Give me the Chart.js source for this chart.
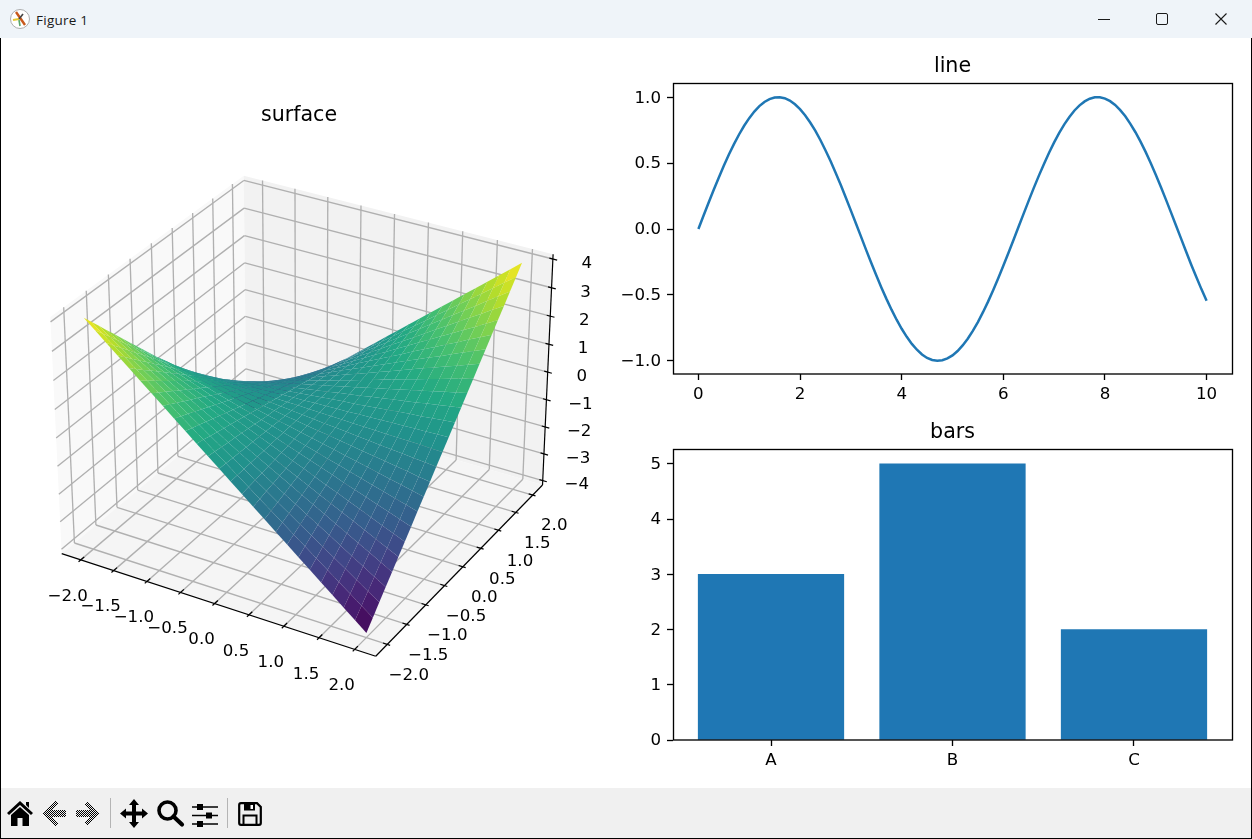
<!DOCTYPE html>
<html>
<head>
<meta charset="utf-8">
<title>Figure 1</title>
<script src="https://cdn.jsdelivr.net/npm/chart.js@4/dist/chart.umd.js"></script>
<style>
  html, body { margin: 0; padding: 0; background: #fff; overflow: hidden; }
  #win { position: relative; width: 1252px; height: 839px; background: #fff; }
  #titlebar { position: absolute; left: 0; top: 0; width: 1252px; height: 38px; background: #eff4f9; }
  #titletext { position: absolute; left: 36px; top: 11px; font: 13.5px/18px "Open Sans", sans-serif; letter-spacing: .25px; color: #1a1a1a; }
  #toolbar { position: absolute; left: 0; top: 788px; width: 1252px; height: 50px; background: #f0f0f0; }
  #bl, #br { position: absolute; top: 38px; width: 1px; height: 801px; background: #000; z-index: 5; }
  #bl { left: 0; } #br { left: 1251px; }
  #bb { position: absolute; left: 0; top: 838px; width: 1252px; height: 1px; background: #000; z-index: 5; }
  canvas { position: absolute; display: block; }
  svg { position: absolute; overflow: visible; }
  .sep { position: absolute; top: 10px; width: 1px; height: 30px; background: #b4b4b4; }
</style>
</head>
<body>
<div id="win">
  <div id="titlebar">
    <svg style="left:10px;top:9px" width="20" height="20" viewBox="0 0 20 20">
      <circle cx="10" cy="10" r="9.5" fill="#fff" stroke="#999" stroke-width="0.8"/>
      <path d="M6 3 L15 16" stroke="#c8581c" stroke-width="2.4"/>
      <path d="M3 11 L9 10" stroke="#e6c832" stroke-width="2"/>
      <path d="M9 10 L13 5" stroke="#444" stroke-width="1.6"/>
      <path d="M9 11 L10 17" stroke="#5aa66a" stroke-width="1.6"/>
    </svg>
    <div id="titletext">Figure 1</div>
    <svg style="left:1098px;top:19px" width="12" height="2"><path d="M0 .5 H12" stroke="#1a1a1a" stroke-width="1"/></svg>
    <svg style="left:1156px;top:13px" width="12" height="12"><rect x=".5" y=".5" width="11" height="11" rx="1.5" fill="none" stroke="#1a1a1a"/></svg>
    <svg style="left:1215px;top:13px" width="12" height="12"><path d="M.5 .5 L11.5 11.5 M11.5 .5 L.5 11.5" stroke="#1a1a1a" stroke-width="1.1"/></svg>
  </div>
  <canvas id="surface" width="619" height="750" style="left:1px;top:38px"></canvas>
  <canvas id="line" width="632" height="375" style="left:620px;top:38px"></canvas>
  <canvas id="bars" width="632" height="375" style="left:620px;top:413px"></canvas>
  <div id="toolbar">
    <svg style="left:7px;top:13px" width="26" height="25" viewBox="0 0 26 25">
      <path d="M13 0 L26 12 L24 14 L13 4 L2 14 L0 12 Z M19 1 h3 v6 l-3 -3 Z M4 14 L13 6 L22 14 V25 H15.5 V17 H10.5 V25 H4 Z" fill="#000"/>
    </svg>
    <svg style="left:43px;top:13px" width="23" height="25" viewBox="0 0 23 25" shape-rendering="crispEdges">
      <defs><pattern id="dith" width="2" height="2" patternUnits="userSpaceOnUse"><rect width="1" height="1" fill="#000"/><rect x="1" y="1" width="1" height="1" fill="#000"/></pattern></defs>
      <path d="M12 0 L15 3 L9 9 H23 V16 H9 L15 22 L12 25 L0 12.5 Z" fill="url(#dith)"/>
    </svg>
    <svg style="left:76px;top:13px" width="23" height="25" viewBox="0 0 23 25" shape-rendering="crispEdges">
      <path d="M11 0 L8 3 L14 9 H0 V16 H14 L8 22 L11 25 L23 12.5 Z" fill="url(#dith)"/>
    </svg>
    <div class="sep" style="left:110px"></div>
    <svg style="left:120px;top:11px" width="28" height="29" viewBox="0 0 28 29">
      <path d="M14 0 L19 6 H16 V12.5 H22 V9.5 L28 14.5 L22 19.5 V16.5 H16 V23 H19 L14 29 L9 23 H12 V16.5 H6 V19.5 L0 14.5 L6 9.5 V12.5 H12 V6 H9 Z" fill="#000"/>
    </svg>
    <svg style="left:157px;top:12px" width="27" height="26" viewBox="0 0 27 26">
      <circle cx="10.5" cy="10.5" r="8.5" fill="none" stroke="#000" stroke-width="3.6"/>
      <path d="M16.5 16.5 L25 24.5" stroke="#000" stroke-width="4.2" stroke-linecap="round"/>
    </svg>
    <svg style="left:192px;top:16px" width="26" height="23" viewBox="0 0 26 23">
      <path d="M0 3 H26 M0 11.5 H26 M0 20 H26" stroke="#000" stroke-width="1.4"/>
      <rect x="5" y="0" width="6" height="6" fill="#000"/><rect x="14" y="8.5" width="6" height="6" fill="#000"/><rect x="5" y="17" width="6" height="6" fill="#000"/>
    </svg>
    <div class="sep" style="left:227px"></div>
    <svg style="left:238px;top:14px" width="24" height="24" viewBox="0 0 24 24">
      <path d="M1.2 3 Q1.2 1.2 3 1.2 H19 L22.8 5 V21 Q22.8 22.8 21 22.8 H3 Q1.2 22.8 1.2 21 Z" fill="none" stroke="#000" stroke-width="2.2"/>
      <path d="M6 1.5 H17 V8.5 H6 Z" fill="#000"/><rect x="12.5" y="3" width="2.5" height="4" fill="#fff"/>
      <path d="M5.5 22 V13.5 H18.5 V22" fill="none" stroke="#000" stroke-width="2"/>
    </svg>
  </div>
  <div id="bl"></div><div id="br"></div><div id="bb"></div>
</div>

<script>
// surface grid (same positions on both axes)
const gridX = [-2,-1.84,-1.68,-1.52,-1.36,-1.2,-1.04,-0.88,-0.72,-0.56,-0.4,-0.24,-0.08,0.08,0.24,0.4,0.56,0.72,0.88,1.04,1.2,1.36,1.52,1.68,1.84,2];
const gridY = [-2,-1.84,-1.68,-1.52,-1.36,-1.2,-1.04,-0.88,-0.72,-0.56,-0.4,-0.24,-0.08,0.08,0.24,0.4,0.56,0.72,0.88,1.04,1.2,1.36,1.52,1.68,1.84,2];
// surface heights, one row per gridY value
const surfaceZ = [
[4,3.68,3.36,3.04,2.72,2.4,2.08,1.76,1.44,1.12,.8,.48,.16,-.16,-.48,-.8,-1.12,-1.44,-1.76,-2.08,-2.4,-2.72,-3.04,-3.36,-3.68,-4],
[3.68,3.39,3.09,2.8,2.5,2.21,1.91,1.62,1.32,1.03,.74,.44,.15,-.15,-.44,-.74,-1.03,-1.32,-1.62,-1.91,-2.21,-2.5,-2.8,-3.09,-3.39,-3.68],
[3.36,3.09,2.82,2.55,2.28,2.02,1.75,1.48,1.21,.94,.67,.4,.13,-.13,-.4,-.67,-.94,-1.21,-1.48,-1.75,-2.02,-2.28,-2.55,-2.82,-3.09,-3.36],
[3.04,2.8,2.55,2.31,2.07,1.82,1.58,1.34,1.09,.85,.61,.36,.12,-.12,-.36,-.61,-.85,-1.09,-1.34,-1.58,-1.82,-2.07,-2.31,-2.55,-2.8,-3.04],
[2.72,2.5,2.28,2.07,1.85,1.63,1.41,1.2,.98,.76,.54,.33,.11,-.11,-.33,-.54,-.76,-.98,-1.2,-1.41,-1.63,-1.85,-2.07,-2.28,-2.5,-2.72],
[2.4,2.21,2.02,1.82,1.63,1.44,1.25,1.06,.86,.67,.48,.29,.1,-.1,-.29,-.48,-.67,-.86,-1.06,-1.25,-1.44,-1.63,-1.82,-2.02,-2.21,-2.4],
[2.08,1.91,1.75,1.58,1.41,1.25,1.08,.92,.75,.58,.42,.25,.08,-.08,-.25,-.42,-.58,-.75,-.92,-1.08,-1.25,-1.41,-1.58,-1.75,-1.91,-2.08],
[1.76,1.62,1.48,1.34,1.2,1.06,.92,.77,.63,.49,.35,.21,.07,-.07,-.21,-.35,-.49,-.63,-.77,-.92,-1.06,-1.2,-1.34,-1.48,-1.62,-1.76],
[1.44,1.32,1.21,1.09,.98,.86,.75,.63,.52,.4,.29,.17,.06,-.06,-.17,-.29,-.4,-.52,-.63,-.75,-.86,-.98,-1.09,-1.21,-1.32,-1.44],
[1.12,1.03,.94,.85,.76,.67,.58,.49,.4,.31,.22,.13,.04,-.04,-.13,-.22,-.31,-.4,-.49,-.58,-.67,-.76,-.85,-.94,-1.03,-1.12],
[.8,.74,.67,.61,.54,.48,.42,.35,.29,.22,.16,.1,.03,-.03,-.1,-.16,-.22,-.29,-.35,-.42,-.48,-.54,-.61,-.67,-.74,-.8],
[.48,.44,.4,.36,.33,.29,.25,.21,.17,.13,.1,.06,.02,-.02,-.06,-.1,-.13,-.17,-.21,-.25,-.29,-.33,-.36,-.4,-.44,-.48],
[.16,.15,.13,.12,.11,.1,.08,.07,.06,.04,.03,.02,.01,-.01,-.02,-.03,-.04,-.06,-.07,-.08,-.1,-.11,-.12,-.13,-.15,-.16],
[-.16,-.15,-.13,-.12,-.11,-.1,-.08,-.07,-.06,-.04,-.03,-.02,-.01,.01,.02,.03,.04,.06,.07,.08,.1,.11,.12,.13,.15,.16],
[-.48,-.44,-.4,-.36,-.33,-.29,-.25,-.21,-.17,-.13,-.1,-.06,-.02,.02,.06,.1,.13,.17,.21,.25,.29,.33,.36,.4,.44,.48],
[-.8,-.74,-.67,-.61,-.54,-.48,-.42,-.35,-.29,-.22,-.16,-.1,-.03,.03,.1,.16,.22,.29,.35,.42,.48,.54,.61,.67,.74,.8],
[-1.12,-1.03,-.94,-.85,-.76,-.67,-.58,-.49,-.4,-.31,-.22,-.13,-.04,.04,.13,.22,.31,.4,.49,.58,.67,.76,.85,.94,1.03,1.12],
[-1.44,-1.32,-1.21,-1.09,-.98,-.86,-.75,-.63,-.52,-.4,-.29,-.17,-.06,.06,.17,.29,.4,.52,.63,.75,.86,.98,1.09,1.21,1.32,1.44],
[-1.76,-1.62,-1.48,-1.34,-1.2,-1.06,-.92,-.77,-.63,-.49,-.35,-.21,-.07,.07,.21,.35,.49,.63,.77,.92,1.06,1.2,1.34,1.48,1.62,1.76],
[-2.08,-1.91,-1.75,-1.58,-1.41,-1.25,-1.08,-.92,-.75,-.58,-.42,-.25,-.08,.08,.25,.42,.58,.75,.92,1.08,1.25,1.41,1.58,1.75,1.91,2.08],
[-2.4,-2.21,-2.02,-1.82,-1.63,-1.44,-1.25,-1.06,-.86,-.67,-.48,-.29,-.1,.1,.29,.48,.67,.86,1.06,1.25,1.44,1.63,1.82,2.02,2.21,2.4],
[-2.72,-2.5,-2.28,-2.07,-1.85,-1.63,-1.41,-1.2,-.98,-.76,-.54,-.33,-.11,.11,.33,.54,.76,.98,1.2,1.41,1.63,1.85,2.07,2.28,2.5,2.72],
[-3.04,-2.8,-2.55,-2.31,-2.07,-1.82,-1.58,-1.34,-1.09,-.85,-.61,-.36,-.12,.12,.36,.61,.85,1.09,1.34,1.58,1.82,2.07,2.31,2.55,2.8,3.04],
[-3.36,-3.09,-2.82,-2.55,-2.28,-2.02,-1.75,-1.48,-1.21,-.94,-.67,-.4,-.13,.13,.4,.67,.94,1.21,1.48,1.75,2.02,2.28,2.55,2.82,3.09,3.36],
[-3.68,-3.39,-3.09,-2.8,-2.5,-2.21,-1.91,-1.62,-1.32,-1.03,-.74,-.44,-.15,.15,.44,.74,1.03,1.32,1.62,1.91,2.21,2.5,2.8,3.09,3.39,3.68],
[-4,-3.68,-3.36,-3.04,-2.72,-2.4,-2.08,-1.76,-1.44,-1.12,-.8,-.48,-.16,.16,.48,.8,1.12,1.44,1.76,2.08,2.4,2.72,3.04,3.36,3.68,4]
];
const surfaceXYTicks = [-2,-1.5,-1,-0.5,0,0.5,1,1.5,2];
const surfaceXYLabels = ['\u22122.0','\u22121.5','\u22121.0','\u22120.5','0.0','0.5','1.0','1.5','2.0'];
const surfaceZTicks = [-4,-3,-2,-1,0,1,2,3,4];
const surfaceZLabels = ['\u22124','\u22123','\u22122','\u22121','0','1','2','3','4'];

// line panel
const lineX = [0,.1,.2,.3,.4,.5,.6,.7,.8,.9,1,1.1,1.2,1.3,1.4,1.5,1.6,1.7,1.8,1.9,2,2.1,2.2,2.3,2.4,2.5,2.6,2.7,2.8,2.9,3,3.1,3.2,3.3,3.4,3.5,3.6,3.7,3.8,3.9,4,4.1,4.2,4.3,4.4,4.5,4.6,4.7,4.8,4.9,5,5.1,5.2,5.3,5.4,5.5,5.6,5.7,5.8,5.9,6,6.1,6.2,6.3,6.4,6.5,6.6,6.7,6.8,6.9,7,7.1,7.2,7.3,7.4,7.5,7.6,7.7,7.8,7.9,8,8.1,8.2,8.3,8.4,8.5,8.6,8.7,8.8,8.9,9,9.1,9.2,9.3,9.4,9.5,9.6,9.7,9.8,9.9,10];
const lineY = [0,.1,.199,.296,.389,.479,.565,.644,.717,.783,.841,.891,.932,.964,.985,.997,1,.992,.974,.946,.909,.863,.808,.746,.675,.598,.516,.427,.335,.239,.141,.042,-.058,-.158,-.256,-.351,-.443,-.53,-.612,-.688,-.757,-.818,-.872,-.916,-.952,-.978,-.994,-1,-.996,-.982,-.959,-.926,-.883,-.832,-.773,-.706,-.631,-.551,-.465,-.374,-.279,-.182,-.083,.017,.117,.215,.312,.405,.494,.578,.657,.729,.794,.85,.899,.938,.968,.988,.999,.999,.989,.97,.941,.902,.855,.798,.734,.663,.585,.501,.412,.319,.223,.124,.025,-.075,-.175,-.273,-.366,-.458,-.544];
const lineXTicks = [0,2,4,6,8,10];
const lineYTicks = [-1,-0.5,0,0.5,1];
const lineYLabels = ['\u22121.0','\u22120.5','0.0','0.5','1.0'];

// bar panel
const barCategories = ['A','B','C'];
const barValues = [3,5,2];
const barYTicks = [0,1,2,3,4,5];

const tickFont = { family: 'DejaVu Sans', size: 16.67 };
const titleFont = { family: 'DejaVu Sans', size: 20.6, weight: 'normal' };
const blue = '#1f77b4';

Chart.defaults.animation = false;
Chart.defaults.color = '#000';

// --- 3d projection, same steps as mplot3d with elev 30 / azim -60
const limXY = 2.2, limZ = 4;
const paneXY = limXY + 2 * limXY / 48, paneZ = limZ + 2 * limZ / 48;
const boxScale = 1.8294640721620434 / Math.sqrt(41);
const box = [4 * boxScale, 4 * boxScale, 3 * boxScale];
const elev = 30 * Math.PI / 180, azim = -60 * Math.PI / 180;
const viewDir = [Math.cos(elev) * Math.cos(azim), Math.cos(elev) * Math.sin(azim), Math.sin(elev)];
const eye = [box[0] / 2 + 10 * viewDir[0], box[1] / 2 + 10 * viewDir[1], box[2] / 2 + 10 * viewDir[2]];
const cross = (a, b) => [a[1]*b[2]-a[2]*b[1], a[2]*b[0]-a[0]*b[2], a[0]*b[1]-a[1]*b[0]];
const dot = (a, b) => a[0]*b[0]+a[1]*b[1]+a[2]*b[2];
const rawU = cross([0, 0, 1], viewDir);
const uLen = Math.sqrt(dot(rawU, rawU));
const viewU = rawU.map(v => v / uLen);
const viewV = cross(viewDir, viewU);

function project(x, y, z) {
  const p = [
    (x + limXY) / (2 * limXY) * box[0] - eye[0],
    (y + limXY) / (2 * limXY) * box[1] - eye[1],
    (z + limZ) / (2 * limZ) * box[2] - eye[2]
  ];
  const depth = -dot(p, viewDir);
  return { x: dot(p, viewU) / depth, y: dot(p, viewV) / depth, depth: depth };
}

const viridis = [[68,1,84],[72,36,117],[65,68,135],[53,95,141],[42,120,142],[33,145,140],[34,168,132],[68,191,112],[122,209,81],[189,223,38],[253,231,37]];
function viridisColor(t) {
  const s = Math.min(Math.max(t, 0), 1) * 10, i = Math.min(Math.floor(s), 9), f = s - i;
  const c = viridis[i].map((v, k) => Math.round(v + (viridis[i + 1][k] - v) * f));
  return 'rgb(' + c.join(',') + ')';
}

function polyDataset(corners, color) {
  return { data: corners.map(c => project(c[0], c[1], c[2])), polyFill: color, showLine: false, pointRadius: 0, clip: false };
}
function lineDataset(a, b, color, width) {
  return { data: [project(a[0], a[1], a[2]), project(b[0], b[1], b[2])], showLine: true, borderColor: color, borderWidth: width, pointRadius: 0, clip: false };
}

const painted = [];
const P = paneXY, Q = paneZ;
painted.push(polyDataset([[-P,-P,-Q],[-P,P,-Q],[-P,P,Q],[-P,-P,Q]], '#f9f9f9'));
painted.push(polyDataset([[-P,P,-Q],[P,P,-Q],[P,P,Q],[-P,P,Q]], '#f2f2f2'));
painted.push(polyDataset([[-P,-P,-Q],[P,-P,-Q],[P,P,-Q],[-P,P,-Q]], '#f5f5f5'));

const gridColor = '#b0b0b0', gridWidth = 1.33;
surfaceXYTicks.forEach(t => {
  painted.push(lineDataset([t,-P,-Q],[t,P,-Q],gridColor,gridWidth));
  painted.push(lineDataset([t,P,-Q],[t,P,Q],gridColor,gridWidth));
  painted.push(lineDataset([-P,t,-Q],[P,t,-Q],gridColor,gridWidth));
  painted.push(lineDataset([-P,t,-Q],[-P,t,Q],gridColor,gridWidth));
});
surfaceZTicks.forEach(t => {
  painted.push(lineDataset([-P,-P,t],[-P,P,t],gridColor,gridWidth));
  painted.push(lineDataset([-P,P,t],[P,P,t],gridColor,gridWidth));
});

// axis lines and tick marks
painted.push(lineDataset([-P,-P,-Q],[P,-P,-Q],'#000',1.2));
painted.push(lineDataset([P,-P,-Q],[P,P,-Q],'#000',1.2));
painted.push(lineDataset([P,P,-Q],[P,P,Q],'#000',1.2));
surfaceXYTicks.forEach(t => {
  painted.push(lineDataset([t,-P-0.05,-Q],[t,-P+0.08,-Q],'#000',1.2));
  painted.push(lineDataset([P+0.04,t,-Q],[P-0.06,t,-Q],'#000',1.2));
});
surfaceZTicks.forEach(t => {
  painted.push(lineDataset([P+0.06,P,t],[P-0.05,P,t],'#000',1.2));
});

// surface cells, far ones first
const cells = [];
for (let j = 0; j < gridY.length - 1; j++) {
  for (let i = 0; i < gridX.length - 1; i++) {
    const corners = [
      [gridX[i], gridY[j], surfaceZ[j][i]],
      [gridX[i + 1], gridY[j], surfaceZ[j][i + 1]],
      [gridX[i + 1], gridY[j + 1], surfaceZ[j + 1][i + 1]],
      [gridX[i], gridY[j + 1], surfaceZ[j + 1][i]]
    ];
    const meanZ = corners.reduce((s, c) => s + c[2], 0) / 4;
    const depth = corners.reduce((s, c) => s + project(c[0], c[1], c[2]).depth, 0) / 4;
    cells.push({ corners, meanZ, depth });
  }
}
cells.sort((a, b) => b.depth - a.depth);
cells.forEach(c => painted.push(polyDataset(c.corners, viridisColor((c.meanZ + 4) / 8))));

// chart.js draws the first dataset on top
const surfaceDatasets = painted.reverse();

const polyFillPlugin = {
  id: 'polyFill',
  beforeDatasetDraw(chart, args) {
    const color = chart.data.datasets[args.index].polyFill;
    if (!color) return;
    const pts = args.meta.data, ctx = chart.ctx;
    ctx.save();
    ctx.beginPath();
    pts.forEach((p, i) => i ? ctx.lineTo(p.x, p.y) : ctx.moveTo(p.x, p.y));
    ctx.closePath();
    ctx.fillStyle = color;
    ctx.fill();
    ctx.restore();
  }
};

const surfaceLabelsPlugin = {
  id: 'surfaceLabels',
  afterDraw(chart) {
    const ctx = chart.ctx, sx = chart.scales.x, sy = chart.scales.y;
    const put = (pos, text, dx, dy) => {
      const p = project(pos[0], pos[1], pos[2]);
      ctx.fillText(text, sx.getPixelForValue(p.x) + dx, sy.getPixelForValue(p.y) + dy);
    };
    ctx.save();
    ctx.font = '16.67px "DejaVu Sans"';
    ctx.fillStyle = '#000';
    ctx.textAlign = 'center';
    ctx.textBaseline = 'middle';
    surfaceXYTicks.forEach((t, i) => {
      put([t, -P, -Q], surfaceXYLabels[i], -13, 36.5);
      put([P, t, -Q], surfaceXYLabels[i], 21.5, 31);
    });
    surfaceZTicks.forEach((t, i) => put([P, P, t], surfaceZLabels[i], 34, 4.5));
    ctx.restore();
  }
};

new Chart(document.getElementById('surface'), {
  type: 'scatter',
  data: { datasets: surfaceDatasets },
  plugins: [polyFillPlugin, surfaceLabelsPlugin],
  options: {
    responsive: false,
    devicePixelRatio: 1,
    events: [],
    layout: { autoPadding: false, padding: { left: 18.5, right: 41.5, top: 65.28, bottom: 96.5 } },
    plugins: {
      legend: { display: false },
      tooltip: { enabled: false },
      title: { display: true, fullSize: false, text: 'surface', font: titleFont, color: '#000', padding: { top: 0, bottom: 4.5 } }
    },
    scales: {
      x: { type: 'linear', display: false, min: -0.095, max: 0.09 },
      y: { type: 'linear', display: false, min: -0.095, max: 0.09 }
    }
  }
});

// spines on all four sides like the matplotlib axes
const framePlugin = {
  id: 'frame',
  afterDraw(chart) {
    const a = chart.chartArea, ctx = chart.ctx;
    ctx.save();
    ctx.strokeStyle = '#000';
    ctx.lineWidth = 1.33;
    ctx.strokeRect(Math.round(a.left) + 0.5, Math.round(a.top) - 0.5, Math.round(a.right - a.left), Math.round(a.bottom - a.top) + 0.5);
    ctx.restore();
  }
};

function panelScale(extra) {
  return Object.assign({
    type: 'linear',
    offset: false,
    border: { display: false },
    grid: { offset: false, drawOnChartArea: false, drawTicks: true, tickLength: 6, tickColor: '#000', tickWidth: 1.33 }
  }, extra);
}

function setTicks(values) {
  return scale => { scale.ticks = values.map(v => ({ value: v })); };
}

new Chart(document.getElementById('line'), {
  type: 'scatter',
  data: { datasets: [{
    data: lineX.map((x, i) => ({ x: x, y: lineY[i] })),
    showLine: true, borderColor: blue, borderWidth: 2.5, pointRadius: 0
  }] },
  plugins: [framePlugin],
  options: {
    responsive: false,
    devicePixelRatio: 1,
    events: [],
    layout: { autoPadding: false, padding: { top: 16.78, right: 20, left: 0, bottom: 0 } },
    plugins: {
      legend: { display: false },
      tooltip: { enabled: false },
      title: { display: true, fullSize: false, text: 'line', font: titleFont, color: '#000', padding: { top: 0, bottom: 4.5 } }
    },
    scales: {
      x: panelScale({
        min: -0.5, max: 10.5,
        afterBuildTicks: setTicks(lineXTicks),
        afterFit: s => { s.height = 39; },
        ticks: { font: tickFont, color: '#000', padding: 5, maxRotation: 0, autoSkip: false, callback: v => String(v) }
      }),
      y: panelScale({
        min: -1.1, max: 1.1,
        afterBuildTicks: setTicks(lineYTicks),
        afterFit: s => { s.width = 53; },
        ticks: { font: tickFont, color: '#000', padding: 6, labelOffset: 1, autoSkip: false, callback: (v, i) => lineYLabels[i] }
      })
    }
  }
});

new Chart(document.getElementById('bars'), {
  type: 'bar',
  data: { datasets: [{
    data: barCategories.map((c, i) => ({ x: i, y: barValues[i] })),
    backgroundColor: blue, barThickness: 145.6
  }] },
  plugins: [framePlugin],
  options: {
    responsive: false,
    devicePixelRatio: 1,
    events: [],
    layout: { autoPadding: false, padding: { top: 7.78, right: 20, left: 0, bottom: 0 } },
    plugins: {
      legend: { display: false },
      tooltip: { enabled: false },
      title: { display: true, fullSize: false, text: 'bars', font: titleFont, color: '#000', padding: { top: 0, bottom: 4.5 } }
    },
    scales: {
      x: panelScale({
        min: -0.54, max: 2.54,
        afterBuildTicks: setTicks(barCategories.map((c, i) => i)),
        afterFit: s => { s.height = 48; },
        ticks: { font: tickFont, color: '#000', padding: 5, maxRotation: 0, autoSkip: false, callback: (v, i) => barCategories[i] }
      }),
      y: panelScale({
        min: 0, max: 5.25,
        afterBuildTicks: setTicks(barYTicks),
        afterFit: s => { s.width = 53; },
        ticks: { font: tickFont, color: '#000', padding: 6, labelOffset: 1, autoSkip: false, callback: v => String(v) }
      })
    }
  }
});
</script>
</body>
</html>
